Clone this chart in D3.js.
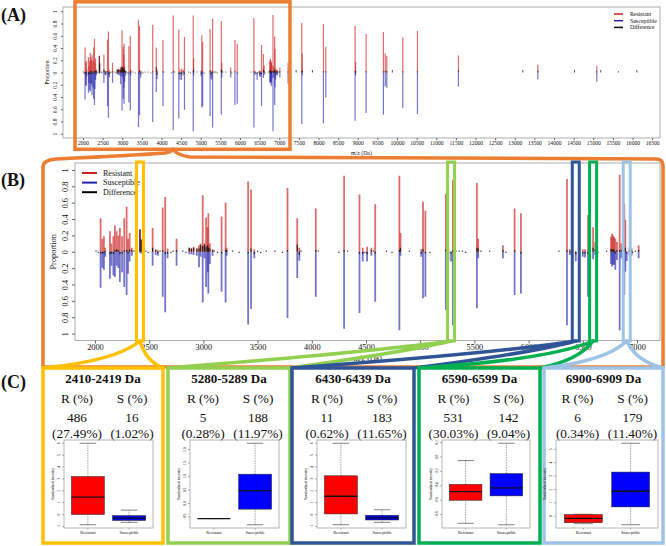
<!DOCTYPE html>
<html><head><meta charset="utf-8">
<script src="https://cdn.jsdelivr.net/npm/d3@7/dist/d3.min.js"></script>
<style>
body{margin:0;background:#fff}
svg{display:block}
text{font-family:"Liberation Serif","Times New Roman",serif;fill:#111}
</style>
</head><body>
<svg id="c" width="666" height="546"></svg>
<script>
// ---------------- DATA ----------------
const peakMz = [2052,2068,2083,2095,2138,2152,2170,2184,2200,2215,
  2230,2250,2270,2292,2305,2320,2340,2415,2425,2532,
  2560,2580,2625,2648,2670,2753,2870,2890,2910,2940,
  2960,2975,2994,3010,3025,3040,3046,3060,3085,3168,
  3205,3215,3413,3440,3470,3776,3866,3885,4037,4298,
  4440,4470,4510,4550,4585,4808,4818,5010,5026,5048,
  5237,5260,5285,5302,5523,5535,5763,5871,5929,6354,
  6380,6435,6500,6520,6548,6595,6615,6760,6770,6780,
  6790,6800,6815,6840,6855,6883,6892,6905,6930,6950,
  7015,7225,7573,7585,8125,8185,8932,8945,9212,9653,
  9700,9740,10147,10520,11565,13588,15090];
const resistant = [.41,.16,.19,.05,.25,.10,.19,.32,.25,.20,
  .29,.19,.41,.55,.16,.23,.05,.2749,.15,.29,
  .03,.02,.54,.67,.04,.16,.05,.04,.06,.05,
  .08,.10,.69,.10,.42,.30,.47,.10,.03,.43,
  .60,.05,.86,.76,.03,.78,.41,.05,.53,.93,
  .70,.05,.06,.05,.58,.93,.23,.03,.61,.50,
  .71,.04,.0028,.88,.84,.16,.08,.53,.47,.89,
  .03,.0062,.03,.03,.45,.3003,.12,.18,.22,.20,
  .18,.16,.12,.94,.10,.59,.39,.0034,.05,.04,
  .08,.16,.81,.31,.79,.42,.76,.17,.63,.66,
  .31,.27,.57,.68,.28,.13,.11];
const susceptible = [.44,.20,.22,.06,.33,.17,.29,.31,.17,.20,
  .37,.25,.43,.53,.27,.12,.05,.0102,.02,.17,
  .04,.05,.55,.74,.08,.17,.03,.03,.04,.05,
  .19,.06,.62,.08,.43,.25,.51,.15,.05,.49,
  .62,.05,.89,.70,.08,.81,.32,.11,.55,.94,
  .75,.12,.12,.05,.61,.96,.05,.06,.57,.55,
  .71,.10,.1197,.90,.69,.08,.08,.53,.51,.90,
  .04,.1165,.06,.07,.55,.0904,.04,.15,.18,.16,
  .16,.22,.10,.96,.08,.53,.24,.114,.04,.05,
  .08,.18,.84,.05,.83,.41,.79,.05,.66,.69,
  .23,.25,.58,.68,.23,.11,.15];
const difference = [-.02,-.02,-.02,.01,-.03,-.02,-.03,.02,.03,.02,
  -.03,-.02,.02,.02,-.02,.03,.02,.27,.15,.05,
  .02,-.02,.02,-.03,-.02,.02,.05,.04,.05,.03,
  .04,.08,.07,.09,.06,.08,.05,.04,.02,-.02,
  .02,.02,-.02,.04,-.03,.02,.09,-.04,.02,.02,
  -.02,-.03,-.03,.02,-.02,.02,.05,-.02,.03,-.02,
  .03,-.03,-.02,.02,.05,.04,.02,.02,-.02,.02,
  .01,-.03,-.02,-.02,-.03,.05,.03,.03,.03,.03,
  .02,-.02,.02,.02,.02,.04,.05,-.02,.02,.02,
  .02,.02,.02,.03,.02,.02,.02,.03,.02,.02,
  .03,.02,.02,.02,.03,.03,.02];
// bins with only a small difference mark
const dotMz = [2010,2030,2360,2380,2470,2490,2600,2700,2720,2810,2840,3100,3130,3270,3330,
  3500,3530,3580,3660,3730,3900,4060,4250,4330,4490,4570,4690,4740,4900,5090,
  5330,5360,5390,5420,5560,5640,5790,6280,6390,6470,6640,6720,6960,6985,
  7430,7845,9880,13205,14522,15190,15640,16110];
const dotDiff = [.015,-.015,.015,-.015,.015,-.015,.015,-.015,.015,.015,-.015,.015,-.015,.015,-.015,
  .015,-.015,.015,.015,-.015,.015,.015,-.015,.015,-.015,.015,.015,-.015,.015,-.015,
  .015,.015,.015,-.015,.015,.015,-.015,.015,-.015,.015,-.015,.015,-.015,.015,
  .04,.04,.04,.04,.04,.04,.02,.04];

const legendLabels = ["Resistant","Susceptible","Difference"];
const ticksA = d3.range(2000, 16501, 500);
const ticksB = d3.range(2000, 7001, 500);
const propTicks = [1,0.8,0.6,0.4,0.2,0,-0.2,-0.4,-0.6,-0.8,-1];

// highlighted bins (centre m/z)
const binMz = [2415, 5285, 6435, 6595, 6905];
const binRanges = ["2410-2419 Da","5280-5289 Da","6430-6439 Da","6590-6599 Da","6900-6909 Da"];
const rCount = [486, 5, 11, 531, 6];
const rPct = ["27.49%","0.28%","0.62%","30.03%","0.34%"];
const sCount = [16, 188, 183, 142, 179];
const sPct = ["1.02%","11.97%","11.65%","9.04%","11.40%"];
// [lower whisker, Q1, median, Q3, upper whisker]
const statsR = [[-0.86,0,1.46,3.2,6.0],[-0.56,-0.56,-0.56,-0.56,-0.56],[-0.86,0.05,1.54,3.26,6.0],[-0.92,-0.6,-0.48,-0.38,-0.05],[-0.55,-0.48,-0.15,0.13,0.15]];
const statsS = [[-0.66,-0.5,-0.3,-0.09,0.37],[-0.79,-0.21,0.475,1.09,2.24],[-0.66,-0.46,-0.29,-0.06,0.4],[-0.94,-0.54,-0.43,-0.23,0.19],[-0.63,0.7,1.87,3.3,5.45]];
const boxTicks = [[-1,0,1,2,3,4,5,6],[-0.5,0,0.5,1,1.5,2],[-1,0,1,2,3,4,5,6],[-0.8,-0.6,-0.4,-0.2,0,0.2],[0,1,2,3,4,5]];
const groupLabels = ["Resistant","Susceptible"];

// ---------------- STYLE / LAYOUT ----------------
const ORANGE="#ED7D31", binColors=["#FFC000","#92D050","#2F5597","#00B050","#9DC3E6"];
const RED="#cc2222", BLUE="#2222aa";
const svg = d3.select("#c");

function spectrum(id, x, y, bw, dw, fs, tickLen, labOff, titleOff, xTicks, xTitleY, xTitleFs) {
  const g = svg.append("g");
  const [x0,x1]=x.range(), [yb,yt]=y.range();
  svg.append("clipPath").attr("id",id).append("rect")
     .attr("x",x0).attr("y",yt).attr("width",x1-x0).attr("height",yb-yt);
  const gg = g.append("g").attr("clip-path",`url(#${id})`);
  const idx = d3.range(peakMz.length);
  gg.selectAll("line.r").data(idx).join("line")
    .attr("x1",i=>x(peakMz[i])).attr("x2",i=>x(peakMz[i]))
    .attr("y1",y(0)).attr("y2",i=>y(resistant[i]))
    .attr("stroke",RED).attr("stroke-opacity",0.66).attr("stroke-width",bw);
  gg.selectAll("line.s").data(idx).join("line")
    .attr("x1",i=>x(peakMz[i])).attr("x2",i=>x(peakMz[i]))
    .attr("y1",y(0)).attr("y2",i=>y(-susceptible[i]))
    .attr("stroke",BLUE).attr("stroke-opacity",0.62).attr("stroke-width",bw);
  gg.selectAll("line.d").data(idx).join("line")
    .attr("x1",i=>x(peakMz[i])).attr("x2",i=>x(peakMz[i]))
    .attr("y1",y(0)).attr("y2",i=>y(difference[i]))
    .attr("stroke","#111").attr("stroke-opacity",0.85).attr("stroke-width",dw);
  gg.selectAll("line.o").data(d3.range(dotMz.length)).join("line")
    .attr("x1",i=>x(dotMz[i])).attr("x2",i=>x(dotMz[i]))
    .attr("y1",y(0)).attr("y2",i=>y(dotDiff[i]))
    .attr("stroke","#111").attr("stroke-opacity",0.85).attr("stroke-width",dw);
  // frame
  g.append("rect").attr("x",x0).attr("y",yt).attr("width",x1-x0).attr("height",yb-yt)
    .attr("fill","none").attr("stroke","#999").attr("stroke-width",0.8);
  // x axis
  const ax = g.append("g").attr("transform",`translate(0,${yb})`)
    .call(d3.axisBottom(x).tickValues(xTicks).tickSize(tickLen).tickPadding(1).tickFormat(d3.format("d")));
  ax.select(".domain").remove();
  ax.selectAll("line").attr("stroke","#666");
  ax.selectAll("text").attr("font-size",fs).attr("font-family","Liberation Serif").attr("fill","#222");
  // y axis
  const ay = g.append("g").attr("transform",`translate(${x0},0)`)
    .call(d3.axisLeft(y).tickValues(propTicks).tickSize(tickLen).tickFormat(d=>String(Math.abs(d))));
  ay.select(".domain").remove();
  ay.selectAll("line").attr("stroke","#666");
  ay.selectAll("text").attr("font-size",fs).attr("font-family","Liberation Serif").attr("fill","#222")
    .attr("transform","rotate(-90)").attr("x",0).attr("y",-labOff).attr("dy","0.35em").attr("text-anchor","middle");
  g.append("text").attr("transform",`translate(${x0-titleOff},${y(0)}) rotate(-90)`)
    .attr("text-anchor","middle").attr("dy","0.35em").attr("font-size",fs).text("Proportion");
  g.append("text").attr("x",(x0+x1)/2).attr("y",xTitleY).attr("text-anchor","middle")
    .attr("font-size",xTitleFs).text("m/z (Da)");
  return g;
}

function legend(x, y, dy, len, gap, fs, lw) {
  const cols=[RED,BLUE,"#000"];
  legendLabels.forEach((t,i)=>{
    svg.append("line").attr("x1",x).attr("x2",x+len).attr("y1",y+i*dy).attr("y2",y+i*dy)
      .attr("stroke",cols[i]).attr("stroke-width",lw);
    svg.append("text").attr("x",x+len+gap).attr("y",y+i*dy).attr("dy","0.35em")
      .attr("font-size",fs).text(t);
  });
}

// Panel A
const xA = d3.scaleLinear().domain([1490,16700]).range([63,660]);
const yA = d3.scaleLinear().domain([-1.07,1.07]).range([138,7]);
spectrum("clipA", xA, yA, 1.2, 0.9, 5.6, 2, 8, 16, ticksA, 155, 5.8);
legend(614, 14, 6.7, 9, 7, 5.8, 1.5);

// Panel B
const xB = d3.scaleLinear().domain([1816,7212]).range([75,660]);
const yB = d3.scaleLinear().domain([-1.085,1.085]).range([340.5,163]);
spectrum("clipB", xB, yB, 1.8, 1.2, 8.3, 3, 10, 22, ticksB, 361, 8);
legend(82, 173, 9.6, 15, 6, 8, 2);

// panel letters
[["(A)",21],["(B)",186],["(C)",388]].forEach(([t,y])=>{
  svg.append("text").attr("x",1).attr("y",y).attr("font-size",18).attr("font-weight","bold").text(t);
});

// zoom outline in A
const zoomRange = [1796, 7273];
svg.append("rect").attr("x",xA(zoomRange[0])).attr("y",1.8)
  .attr("width",xA(zoomRange[1])-xA(zoomRange[0])).attr("height",147.5)
  .attr("fill","none").attr("stroke",ORANGE).attr("stroke-width",3.5);

// orange outline of B (brace from A)
const tipX = 173;
svg.append("path").attr("d",
  `M43,367 L43,167 Q43,160 56,159 Q140,155 ${tipX-8},153 Q${tipX-2},152 ${tipX},149 Q${tipX+3},155 ${tipX+17},157 L656,159 Q663,159 663,166 L663,367 Z`)
  .attr("fill","none").attr("stroke",ORANGE).attr("stroke-width",3.5).attr("stroke-linejoin","round");

// C layout
const cLayout = [[43,163],[168,290],[292,414],[419,540],[544,663]];
const frameInset = [[21,10],[22,11],[25,8],[23,10],[12,5]];
const curvature = [1, 0.25, 0.35, 0.9, 1];
const cTop=368, cBot=543, hlTop=162, hlBot=341;

// highlight rectangles and connectors
binMz.forEach((m,i)=>{
  const cx = xB(m), col = binColors[i];
  svg.append("rect").attr("x",cx-3.5).attr("y",hlTop).attr("width",7).attr("height",hlBot-hlTop)
    .attr("fill","none").attr("stroke",col).attr("stroke-width",3);
  const [l,r]=cLayout[i], k=curvature[i];
  const p = d3.path();
  [l,r].forEach(e=>{
    const sx = cx+(e-cx)*0.3, sy = hlBot+(cTop-hlBot)*0.3;
    const qx = cx+(e-cx)*0.25, qy = hlBot+20;
    p.moveTo(cx,hlBot);
    p.quadraticCurveTo(sx+(qx-sx)*k, sy+(qy-sy)*k, e, cTop);
  });
  svg.append("path").attr("d",p.toString()).attr("fill","none").attr("stroke",col)
    .attr("stroke-width",3.5).attr("stroke-linecap","round");
});

// C panels
cLayout.forEach(([l,r],i)=>{
  const col = binColors[i];
  const g = svg.append("g");
  g.append("rect").attr("x",l).attr("y",cTop).attr("width",r-l).attr("height",cBot-cTop)
    .attr("fill","#fff").attr("stroke",col).attr("stroke-width",3.5);
  const cx=(l+r)/2;
  g.append("text").attr("x",cx).attr("y",383).attr("text-anchor","middle").attr("font-weight","bold")
    .attr("font-size",13).text(binRanges[i]);
  const rX=cx-26, sX=cx+29;
  [[rX,"R (%)",String(rCount[i]),"("+rPct[i]+")"],[sX,"S (%)",String(sCount[i]),"("+sPct[i]+")"]].forEach(([x,a,b,c])=>{
    g.append("text").attr("x",x).attr("y",403).attr("text-anchor","middle").attr("font-size",13.3).text(a);
    g.append("text").attr("x",x).attr("y",422).attr("text-anchor","middle").attr("font-size",13.3).text(b);
    g.append("text").attr("x",x).attr("y",438).attr("text-anchor","middle").attr("font-size",13.3).text(c);
  });
  const fx0=l+frameInset[i][0], fx1=r-frameInset[i][1], fy0=440, fy1=528;
  const all=[...statsR[i],...statsS[i]];
  const mn=d3.min(all), mx=d3.max(all), pad=(mx-mn)*0.04;
  const y=d3.scaleLinear().domain([mn-pad,mx+pad]).range([fy1,fy0]);
  const x=d3.scaleLinear().domain([0.42,2.58]).range([fx0,fx1]);
  g.append("rect").attr("x",fx0).attr("y",fy0).attr("width",fx1-fx0).attr("height",fy1-fy0)
    .attr("fill","none").attr("stroke","#999").attr("stroke-width",0.7);
  [statsR[i],statsS[i]].forEach((s,j)=>{
    const p=j+1, [lo,q1,md,q3,hi]=s, fill=j===0?"#ff0000":"#0000ff";
    g.append("line").attr("x1",x(p)).attr("x2",x(p)).attr("y1",y(lo)).attr("y2",y(q1))
      .attr("stroke","#444").attr("stroke-width",0.5).attr("stroke-dasharray","1.5,1");
    g.append("line").attr("x1",x(p)).attr("x2",x(p)).attr("y1",y(q3)).attr("y2",y(hi))
      .attr("stroke","#444").attr("stroke-width",0.5).attr("stroke-dasharray","1.5,1");
    [lo,hi].forEach(v=>g.append("line").attr("x1",x(p-0.2)).attr("x2",x(p+0.2)).attr("y1",y(v)).attr("y2",y(v))
      .attr("stroke","#333").attr("stroke-width",0.6));
    g.append("rect").attr("x",x(p-0.4)).attr("y",y(q3)).attr("width",x(p+0.4)-x(p-0.4))
      .attr("height",Math.max(0,y(q1)-y(q3))).attr("fill",fill).attr("stroke","#222").attr("stroke-width",0.5);
    g.append("line").attr("x1",x(p-0.4)).attr("x2",x(p+0.4)).attr("y1",y(md)).attr("y2",y(md))
      .attr("stroke","#111").attr("stroke-width",1.3);
    g.append("line").attr("x1",x(p)).attr("x2",x(p)).attr("y1",fy1).attr("y2",fy1+1.5)
      .attr("stroke","#666").attr("stroke-width",0.5);
    g.append("text").attr("x",x(p)).attr("y",fy1+5.5).attr("text-anchor","middle").attr("font-size",4.2)
      .attr("fill","#444").text(groupLabels[j]);
  });
  const ticks=boxTicks[i];
  const fmt = ticks.some(t=>!Number.isInteger(t)) ? d3.format(".1f") : d3.format("d");
  ticks.forEach(t=>{
    g.append("line").attr("x1",fx0-2).attr("x2",fx0).attr("y1",y(t)).attr("y2",y(t)).attr("stroke","#666").attr("stroke-width",0.5);
    g.append("text").attr("transform",`translate(${fx0-4},${y(t)}) rotate(-90)`).attr("text-anchor","middle")
      .attr("font-size",3.6).attr("fill","#444").text(fmt(t));
  });
  g.append("text").attr("transform",`translate(${fx0-10},${(fy0+fy1)/2}) rotate(-90)`).attr("text-anchor","middle")
    .attr("font-size",3.6).attr("fill","#444").text("Standardized intensity");
});
</script>
</body></html>
